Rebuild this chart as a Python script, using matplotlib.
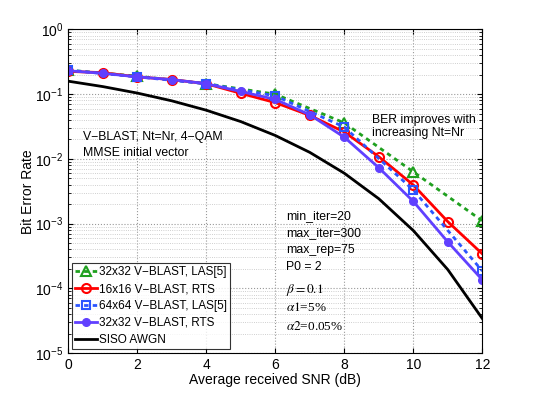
import numpy as np
import matplotlib
matplotlib.use("Agg")
import matplotlib.pyplot as plt
from matplotlib.ticker import LogLocator, NullFormatter

snr_all = [0, 1, 2, 3, 4, 5, 6, 7, 8, 9, 10, 11, 12]
snr_even = [0, 2, 4, 6, 8, 10, 12]

las32 = [0.235, 0.19, 0.145, 0.10, 0.036, 6.3e-3, 1.1e-3]
rts16 = [0.225, 0.215, 0.185, 0.168, 0.145, 0.103, 0.074, 0.047, 0.026,
         0.0108, 3.95e-3, 1.07e-3, 3.4e-4]
las64 = [0.235, 0.185, 0.145, 0.094, 0.031, 3.3e-3, 1.85e-4]
rts32 = [0.23, 0.21, 0.185, 0.168, 0.145, 0.11, 0.083, 0.048, 0.0216,
         7.3e-3, 2.2e-3, 5.2e-4, 1.35e-4]
siso = [0.1587, 0.131, 0.104, 0.0789, 0.0565, 0.0377, 0.0230, 0.0126,
        6.0e-3, 2.42e-3, 7.8e-4, 1.94e-4, 3.4e-5]

plt.rcParams.update({"font.family": "Liberation Sans", "font.size": 9})
fig = plt.figure(figsize=(5.33, 3.98), dpi=100)
ax = fig.add_axes([0.128, 0.113, 0.777, 0.813])

dots = (0, (1.6, 1.5))
ax.semilogy(snr_even, las32, marker="^", ls=dots, color="#1fa01f", lw=2, ms=6.5,
            mfc="none", mew=1.5, label="32x32 V\u2212BLAST, LAS[5]")
ax.semilogy(snr_all, rts16, "-o", color="#ff0000", lw=2, ms=6.5,
            mfc="none", mew=1.5, label="16x16 V\u2212BLAST, RTS")
ax.semilogy(snr_even, las64, marker="s", ls=dots, color="#2b55ff", lw=2, ms=5.5,
            mfc="none", mew=1.5, label="64x64 V\u2212BLAST, LAS[5]")
ax.semilogy(snr_all, rts32, "-o", color="#6040ff", lw=2, ms=5.5,
            label="32x32 V\u2212BLAST, RTS")
ax.semilogy(snr_all, siso, "-", color="black", lw=2, label="SISO AWGN")

ax.set_xlim(0, 12)
ax.set_ylim(1e-5, 1)
ax.set_xticks([0, 2, 4, 6, 8, 10, 12])
ax.yaxis.set_major_locator(LogLocator(base=10, numticks=10))
ax.yaxis.set_minor_locator(LogLocator(base=10, subs=np.arange(2, 10), numticks=10))
ax.yaxis.set_minor_formatter(NullFormatter())
ax.tick_params(which="both", direction="in", top=True, right=True, labelsize=10)
ax.grid(True, which="major", ls=":", color="0.6", lw=0.8)
ax.grid(True, which="minor", ls=":", color="0.75", lw=0.6)

ax.set_xlabel("Average received SNR (dB)", fontsize=10, labelpad=1)
ax.set_ylabel("Bit Error Rate", fontsize=10, labelpad=0)

fs = 8.8
ax.text(0.42, 0.022, "V\u2212BLAST, Nt=Nr, 4\u2212QAM", fontsize=fs, va="center")
ax.text(0.42, 0.0125, "MMSE initial vector", fontsize=fs, va="center")
ax.text(8.79, 0.040, "BER improves with", fontsize=fs, va="center")
ax.text(8.79, 0.025, "increasing Nt=Nr", fontsize=fs, va="center")

for yv, s in [(1.31e-3, "min_iter=20"), (7.2e-4, "max_iter=300"),
              (3.9e-4, "max_rep=75"), (2.13e-4, "P0 = 2")]:
    ax.text(6.31, yv, s, fontsize=fs, va="center")
for yv, s in [(9.4e-5, r"$\beta = 0.1$"), (5.0e-5, r"$\alpha1$=5%"),
              (2.6e-5, r"$\alpha2$=0.05%")]:
    ax.text(6.31, yv, s, fontsize=9.5, va="center", family="Liberation Serif",
            math_fontfamily="stix")

leg = ax.legend(loc="lower left", fontsize=8.5, frameon=True, fancybox=False,
                edgecolor="black", handlelength=1.8, handletextpad=0.2,
                borderpad=0.3, labelspacing=0.42, borderaxespad=0.3)
leg.get_frame().set_linewidth(0.8)

fig.savefig("out.png", dpi=100)
